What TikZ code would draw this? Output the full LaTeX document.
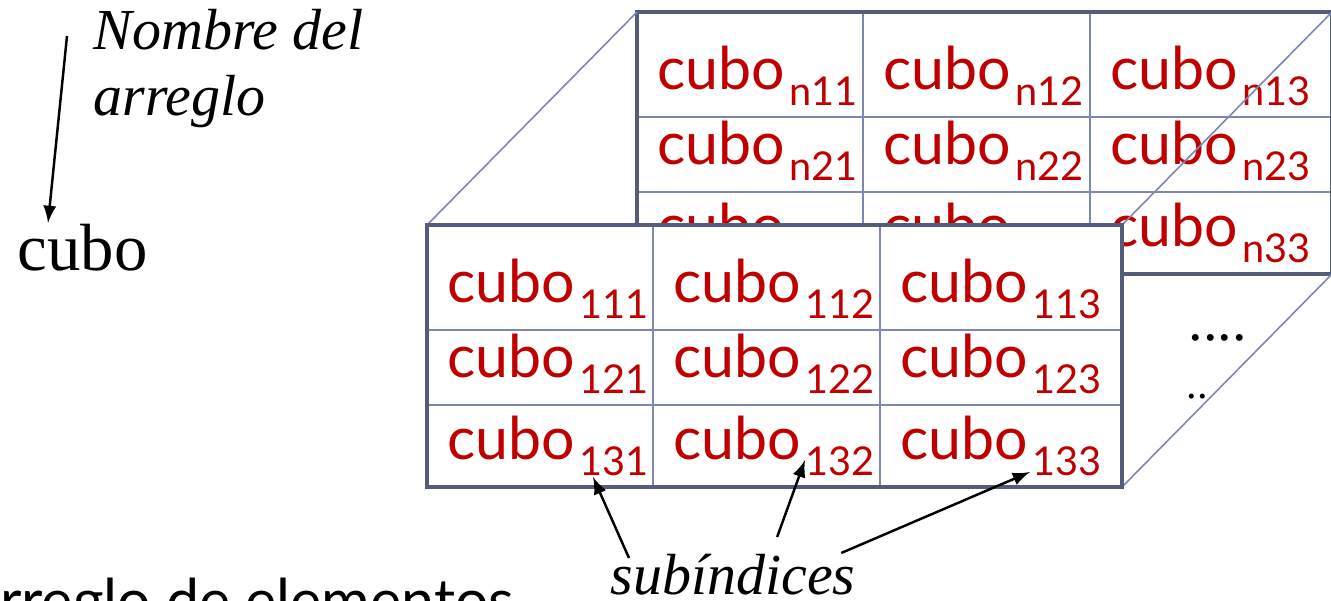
\documentclass[tikz,border=0pt]{standalone}
\usepackage{fontspec}
\setmainfont{Liberation Serif}
\newfontfamily\cellfont{Lato}
\usetikzlibrary{arrows}

\definecolor{cellred}{RGB}{192,0,0}
\definecolor{framecol}{RGB}{84,92,122}
\definecolor{rulecol}{RGB}{124,136,178}

% red element name with its subscript
\newcommand\cubo[1]{cubo\kern0.04cm\raisebox{-0.16cm}{\fontsize{11.3}{12}\selectfont #1}}

% one slice of the array, upper left corner at (#1,#2)
% #3 = first index, #4 = prefix of the node names
\newcommand\slice[4]{
	\fill [white] (#1,#2) rectangle ++(6.95,2.62);
	% inner rules
	\draw [rulecol, line width=0.45pt] (#1+2.26,#2) -- ++(0,2.62);
	\draw [rulecol, line width=0.45pt] (#1+4.53,#2) -- ++(0,2.62);
	\draw [rulecol, line width=0.45pt] (#1,#2+1.05) -- ++(6.95,0);
	\draw [rulecol, line width=0.45pt] (#1,#2+1.80) -- ++(6.95,0);
	% cells
	\foreach \r/\yb in {1/1.05,2/1.80,3/2.62} {
		\foreach \c/\xl in {1/0,2/2.26,3/4.53} {
			\node [cell] (#4\r\c) at (#1+\xl+0.2, #2+\yb-0.28) {\cubo{#3\r\c}};
		}
	}
	% outer frame
	\draw [framecol, line width=0.9pt] (#1,#2) rectangle ++(6.95,2.62);
}

\begin{document}
\begin{tikzpicture}[x=1cm, y=-1cm,
	cell/.style={anchor=base west, inner sep=0pt, text=cellred, font=\cellfont\fontsize{16.8}{18}\selectfont},
	note/.style={inner sep=0pt, font=\itshape\fontsize{16.5}{18.5}\selectfont},
	pointer/.style={-latex, line width=0.7pt}]
	\useasboundingbox (0,0) rectangle (13.31,6);
	\clip (0,0) rectangle (13.31,6);

	% back slice
	\slice{6.37}{0.12}{n}{b}

	% edges of the block
	\draw [rulecol, line width=0.45pt] (4.27,2.25) -- (6.37,0.12);
	\draw [rulecol, line width=0.45pt] (11.22,2.25) -- (13.32,0.12);
	\draw [rulecol, line width=0.45pt] (11.22,4.87) -- (13.32,2.74);

	% front slice
	\slice{4.27}{2.25}{1}{f}

	% more slices
	\node [anchor=base west, inner sep=0pt, font=\fontsize{16.5}{18}\selectfont] (dots1) at (11.88,3.40) {....};
	\node [anchor=base west, inner sep=0pt, font=\fontsize{12}{14}\selectfont] (dots2) at (11.86,3.98) {..};

	% name of the array
	\node [note, anchor=base west, align=left] (nombre) at (0.93,1.15) {Nombre del\\arreglo};
	\node [anchor=base west, inner sep=0pt, font=\fontsize{19}{22}\selectfont] (cubo) at (0.17,2.70) {cubo};
	\draw [pointer] ([xshift=-0.26cm, yshift=-0.27cm]nombre.north west) -- ([xshift=0.31cm]cubo.north west);

	% indices
	\node [note, anchor=base west] (sub) at (6.10,5.94) {subíndices};
	\coordinate (t1) at (5.93,4.77);
	\coordinate (t2) at (8.05,4.60);
	\coordinate (t3) at (10.30,4.72);
	\draw [pointer] ([xshift=0.19cm, yshift=-0.05cm]sub.north west) -- (t1);
	\draw [pointer] ([xshift=0.44cm, yshift=0.16cm]sub.north) -- (t2);
	\draw [pointer] ([xshift=-0.15cm, yshift=0.0cm]sub.north east) -- (t3);

	% caption below
	\node [anchor=base east, inner sep=0pt, font=\cellfont\fontsize{16.8}{18}\selectfont] (caption) at (5.15,6.21) {Arreglo de elementos};
\end{tikzpicture}
\end{document}
